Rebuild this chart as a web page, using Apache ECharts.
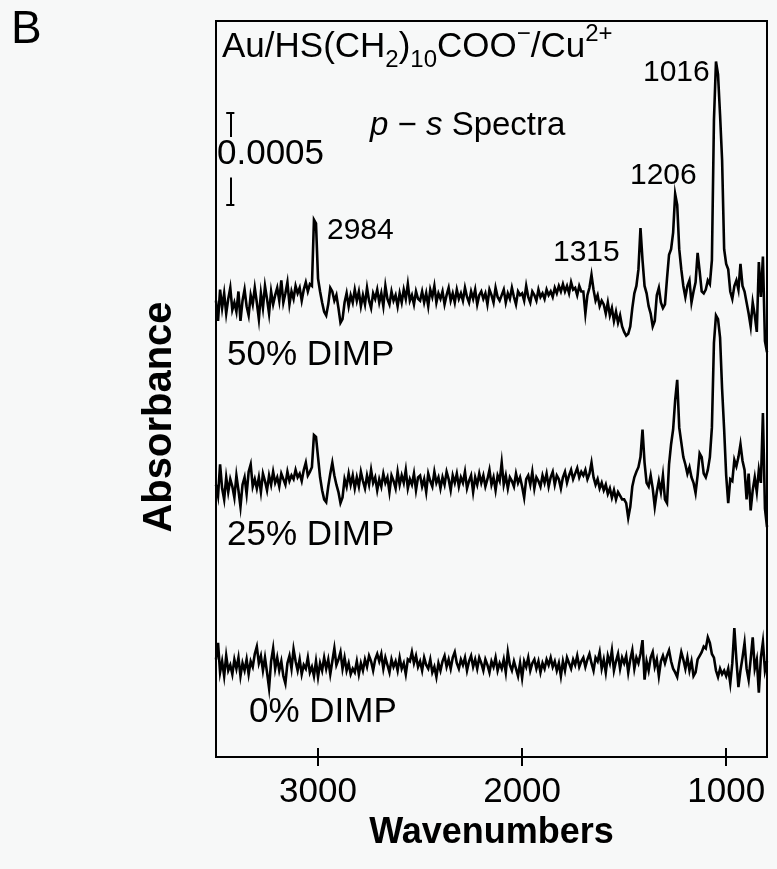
<!DOCTYPE html>
<html><head><meta charset="utf-8">
<script src="https://cdn.jsdelivr.net/npm/echarts@6/dist/echarts.min.js"></script>
<style>html,body{margin:0;padding:0;background:#f7f8f8}#c{width:777px;height:869px}</style>
</head><body><div id="c"></div>
<script>
// Wavenumbers (cm-1), sampling grid of the spectra
const wavenumbers = [
3500,3490,3480,3470,3460,3450,3440,3430,3420,3410,
3400,3390,3380,3370,3360,3350,3340,3330,3320,3310,
3300,3290,3280,3270,3260,3250,3240,3230,3220,3210,
3200,3190,3180,3170,3160,3150,3140,3130,3120,3110,
3100,3090,3080,3070,3060,3050,3040,3030,3020,3010,
3000,2990,2980,2970,2960,2950,2940,2930,2920,2910,
2900,2890,2880,2870,2860,2850,2840,2830,2820,2810,
2800,2790,2780,2770,2760,2750,2740,2730,2720,2710,
2700,2690,2680,2670,2660,2650,2640,2630,2620,2610,
2600,2590,2580,2570,2560,2550,2540,2530,2520,2510,
2500,2490,2480,2470,2460,2450,2440,2430,2420,2410,
2400,2390,2380,2370,2360,2350,2340,2330,2320,2310,
2300,2290,2280,2270,2260,2250,2240,2230,2220,2210,
2200,2190,2180,2170,2160,2150,2140,2130,2120,2110,
2100,2090,2080,2070,2060,2050,2040,2030,2020,2010,
2000,1990,1980,1970,1960,1950,1940,1930,1920,1910,
1900,1890,1880,1870,1860,1850,1840,1830,1820,1810,
1800,1790,1780,1770,1760,1750,1740,1730,1720,1710,
1700,1690,1680,1670,1660,1650,1640,1630,1620,1610,
1600,1590,1580,1570,1560,1550,1540,1530,1520,1510,
1500,1490,1480,1470,1460,1450,1440,1430,1420,1410,
1400,1390,1380,1370,1360,1350,1340,1330,1320,1310,
1300,1290,1280,1270,1260,1250,1240,1230,1220,1210,
1200,1190,1180,1170,1160,1150,1140,1130,1120,1110,
1100,1090,1080,1070,1060,1050,1040,1030,1020,1010,
1000,990,980,970,960,950,940,930,920,910,
900,890,880,870,860,850,840,830,820,810,
800];

// Absorbance (units of 1e-4) relative to each trace's baseline
const dimp50 = [
-0.2,-1.3,0.4,-0.6,0.2,-0.9,-0.1,0.5,-0.7,-0.3,
-0.8,0.3,-1.3,-0.2,0.4,-0.5,-1.0,0.1,-0.4,0.5,
-0.3,-1.2,0.2,-0.6,0.6,-0.1,-0.9,0.3,-0.4,0.1,
0.5,-0.2,0.9,-0.3,0.2,0.8,-0.4,0.3,-0.1,0.6,
0.2,0.5,-0.2,0.4,0.8,0.3,0.7,0.6,4.2,4.0,
1.0,0.3,-0.3,-0.8,-1.0,-0.4,0.5,0.3,-0.2,0.1,
-0.6,-1.4,-1.2,-0.3,0.2,-0.5,0.1,-0.3,0.4,-0.2,
0.3,-0.5,0.1,-0.4,0.5,-0.2,-0.6,0.2,-0.1,0.4,
-0.3,0.2,-0.5,0.6,-0.1,-0.4,0.3,-0.2,0.1,-0.5,
0.2,-0.3,0.4,-0.1,0.7,-0.2,0.1,-0.4,0.3,-0.1,
-0.2,0.3,-0.3,0.2,-0.5,0.4,0.0,0.6,-0.3,0.2,
-0.1,0.3,-0.4,0.1,0.5,-0.2,0.2,-0.3,0.4,-0.1,
0.2,-0.2,0.5,0.0,-0.3,0.3,-0.1,0.4,-0.4,0.1,
0.3,-0.1,0.2,-0.4,0.4,0.1,-0.3,0.5,0.0,-0.2,
0.1,0.4,-0.3,0.2,-0.1,0.5,0.0,-0.4,0.3,0.1,
0.2,-0.2,0.6,0.0,-0.3,0.3,0.1,-0.2,0.4,0.0,
0.2,-0.1,0.4,0.1,0.3,0.0,0.5,0.2,0.6,0.3,
0.7,0.3,0.6,0.2,0.8,0.4,0.5,0.1,0.6,0.3,
0.3,-0.9,0.1,0.5,1.2,0.4,-0.2,0.1,-0.5,-0.2,
-0.4,-0.9,-0.3,-1.0,-0.6,-1.3,-0.8,-1.4,-1.0,-1.6,
-1.9,-2.1,-2.0,-1.6,-0.6,0.2,0.6,1.5,3.75,2.0,
0.6,0.2,-0.5,-0.9,-1.6,-1.3,0.1,0.5,-0.3,-0.6,
-0.4,1.0,2.3,2.6,3.5,5.6,5.0,2.6,1.5,0.6,
0.0,0.6,0.9,-0.3,0.3,0.8,2.4,1.4,0.3,0.2,
0.4,0.9,0.7,2.0,9.6,12.8,12.1,9.9,7.45,2.6,
1.8,1.5,0.3,-0.1,0.6,0.9,0.4,1.8,0.6,0.3,
-0.3,-0.9,-1.6,-0.3,-1.0,-1.9,1.9,0.0,2.2,-2.4,
-3.0];

const dimp25 = [
-0.2,-0.8,0.9,-0.4,-1.0,0.2,-0.6,0.1,-0.3,-0.9,
0.3,-0.5,-1.4,-0.2,0.2,-0.7,0.5,0.9,-0.3,0.1,
-0.4,0.2,-0.6,0.4,0.0,-0.5,0.3,-0.2,0.5,-0.1,
0.2,-0.3,0.4,0.1,-0.2,0.5,0.0,0.3,0.1,0.6,
0.2,0.4,0.0,0.6,1.0,0.3,0.5,0.75,2.5,2.4,
1.3,0.2,-0.5,-1.0,-1.15,-0.3,0.4,1.0,0.3,-0.2,
-0.6,-1.2,-0.9,0.1,-0.3,0.4,-0.2,0.3,-0.4,0.2,
-0.3,0.5,0.0,-0.4,0.3,-0.2,0.6,-0.1,0.2,-0.5,
0.1,-0.3,0.4,-0.1,0.2,-0.6,0.3,0.0,-0.4,0.5,
-0.2,0.3,-0.1,0.6,-0.4,0.1,-0.2,0.4,-0.5,0.2,
0.3,-0.3,0.1,-0.6,0.4,0.0,-0.3,0.5,-0.1,0.2,
-0.4,0.2,-0.2,0.5,0.1,-0.5,0.3,-0.1,0.4,-0.3,
0.2,-0.1,0.5,-0.4,0.0,0.3,-0.6,0.2,-0.2,0.4,
-0.1,0.3,-0.3,0.1,0.6,-0.2,0.2,-0.5,0.3,0.0,
1.0,-0.2,0.3,-0.4,0.2,0.0,-0.3,0.4,-0.1,0.2,
-0.3,-0.9,0.1,0.3,-0.2,0.5,-0.4,0.2,0.0,-0.3,
0.3,-0.1,0.4,-0.3,0.2,0.5,-0.2,0.3,0.1,-0.4,
0.2,0.5,-0.1,0.3,0.6,0.1,0.4,0.7,0.2,0.5,
0.3,0.6,0.1,0.4,1.0,0.2,-0.2,0.1,-0.4,-0.1,
-0.5,-0.2,-0.7,-0.4,-0.9,-0.5,-1.0,-0.6,-0.8,-1.0,
-1.0,-1.2,-2.0,-1.4,-0.3,0.2,0.5,0.75,1.3,2.8,
1.0,-0.1,-0.3,0.3,-0.4,-1.4,-0.6,0.0,-0.6,0.3,
-1.0,-1.2,0.9,2.0,2.8,4.4,5.5,2.9,2.1,1.3,
0.9,0.4,0.75,0.2,-0.1,-0.65,0.3,1.5,1.3,0.4,
0.2,0.6,1.3,2.9,7.5,9.0,8.8,7.8,5.0,2.8,
0.3,-1.2,0.1,0.0,1.15,0.8,1.3,2.0,1.1,0.6,
-1.0,0.4,-1.6,-0.5,0.2,-0.6,0.6,-0.1,3.7,-1.5,
-2.5];

const dimp0 = [
0.3,1.2,-0.4,0.2,-0.6,0.5,-0.3,0.0,-0.5,0.3,
-0.2,0.4,-0.6,0.1,-0.3,0.3,-0.5,0.2,-0.1,0.6,
1.0,0.1,0.5,-0.3,0.4,-0.4,-1.25,0.2,0.9,-0.2,
0.4,-0.3,0.2,-0.6,-1.0,0.1,0.5,-0.2,0.85,0.2,
-0.3,0.3,-0.5,0.0,-0.2,0.4,-0.4,-0.1,-0.6,0.2,
-0.65,0.1,-0.3,0.4,-0.2,0.3,-0.5,0.2,0.9,0.0,
0.3,0.7,-0.2,0.4,-0.3,0.1,-0.5,-0.2,-0.4,0.2,
-0.5,0.1,-0.3,0.3,-0.1,0.5,0.2,-0.3,0.3,0.6,
0.2,0.6,-0.2,0.4,0.0,-0.4,0.3,-0.1,0.2,-0.3,
0.4,-0.2,0.1,-0.5,0.3,0.2,0.7,0.1,0.5,-0.1,
0.2,-0.3,0.4,0.0,-0.2,0.3,-0.4,-0.1,-0.65,0.1,
-0.3,0.2,0.5,-0.1,0.3,-0.2,0.4,0.7,0.1,-0.2,
0.3,0.0,0.4,-0.3,0.2,0.5,-0.1,0.3,-0.2,0.4,
0.1,-0.3,0.3,0.0,-0.4,0.2,-0.1,0.4,-0.3,0.1,
-0.2,0.3,-0.4,0.7,0.0,-0.3,0.2,-0.2,-0.6,0.1,
-0.7,0.2,-0.1,0.4,-0.3,0.1,0.3,-0.2,0.2,-0.4,
0.1,-0.2,0.3,0.0,0.4,-0.1,0.2,-0.3,0.1,-0.6,
0.2,-0.3,0.4,0.1,-0.2,0.3,0.0,0.5,-0.1,0.2,
0.4,-0.1,0.3,0.6,0.1,-0.3,0.4,0.2,0.7,-0.2,
0.3,-0.4,0.5,0.1,0.8,-0.3,0.2,0.6,-0.2,0.4,
0.1,0.5,-0.4,0.3,0.8,-0.2,0.4,0.1,0.6,1.35,
-0.8,0.2,-0.3,0.4,0.7,-0.1,0.3,-0.6,0.2,0.5,
0.1,0.5,0.8,0.2,-0.2,-0.4,-0.65,0.1,0.7,0.3,
-0.2,0.4,-0.3,0.2,-0.6,-0.4,0.3,0.5,0.7,1.0,
0.9,1.5,1.2,0.6,0.4,-0.3,-0.65,-0.2,-0.5,-0.3,
-0.6,-0.2,-1.0,0.1,2.0,0.3,-1.2,-0.3,0.4,1.2,
-0.2,-0.8,0.3,1.5,-0.2,0.3,-1.5,0.4,1.25,-0.3,
0.2];

// vertical offsets of the stacked traces (units of 1e-4 absorbance)
const traceNames = ['50% DIMP', '25% DIMP', '0% DIMP'];
const traceOffsets = [25, 15, 5];
const traceValues = [dimp50, dimp25, dimp0];

// scale bar: 0.0005 absorbance (= 5 units)
const scaleBarWn = 3430;
const scaleBarCapHalf = 20;
const scaleBarBottom = 30;
const scaleBarTop = 35;
const scaleBarGapTop = 33.7;
const scaleBarGapBottom = 31.5;

const xTicks = [1000, 2000, 3000];

const FONT = '"Liberation Sans", Arial, Helvetica, sans-serif';

const series = traceValues.map((vals, k) => ({
  type: 'line',
  name: traceNames[k],
  data: wavenumbers.map((w, i) => [w, traceOffsets[k] + vals[i]]),
  showSymbol: false,
  symbol: 'none',
  lineStyle: { color: '#000', width: 2.6, join: 'miter' },
  animation: false
}));

series.push({
  type: 'lines',
  coordinateSystem: 'cartesian2d',
  lineStyle: { color: '#000', width: 2, opacity: 1 },
  animation: false,
  data: [
    { coords: [[scaleBarWn + scaleBarCapHalf, scaleBarTop], [scaleBarWn - scaleBarCapHalf, scaleBarTop]] },
    { coords: [[scaleBarWn, scaleBarTop], [scaleBarWn, scaleBarGapTop]] },
    { coords: [[scaleBarWn, scaleBarGapBottom], [scaleBarWn, scaleBarBottom]] },
    { coords: [[scaleBarWn + scaleBarCapHalf, scaleBarBottom], [scaleBarWn - scaleBarCapHalf, scaleBarBottom]] }
  ]
});

const txt = (x, y, text, size, extra) => ({
  type: 'text', x: x, y: y,
  style: Object.assign({ text: text, fill: '#000', font: size + 'px ' + FONT, verticalAlign: 'middle', align: 'left' }, extra || {})
});

const chart = echarts.init(document.getElementById('c'), null, { renderer: 'canvas' });
chart.setOption({
  backgroundColor: '#f7f8f8',
  animation: false,
  grid: { left: 216, right: 10, top: 21, bottom: 112, show: true, borderColor: '#000', borderWidth: 2, backgroundColor: 'transparent' },
  xAxis: [{
    type: 'value', min: 800, max: 3500, inverse: true,
    axisLine: { show: true, lineStyle: { color: '#000', width: 2 } },
    axisTick: { show: true, inside: false, length: 9, lineStyle: { color: '#000', width: 2 }, customValues: xTicks },
    axisLabel: { show: true, customValues: xTicks, formatter: v => String(v), color: '#000', fontSize: 35, fontFamily: FONT, margin: 18 },
    splitLine: { show: false },
    name: 'Wavenumbers', nameLocation: 'middle', nameGap: 56,
    nameTextStyle: { color: '#000', fontSize: 36, fontWeight: 'bold', fontFamily: FONT }
  }, {
    type: 'value', min: 800, max: 3500, inverse: true, position: 'bottom', offset: 0,
    axisLine: { show: false },
    axisTick: { show: true, inside: true, length: 9, lineStyle: { color: '#000', width: 2 }, customValues: xTicks },
    axisLabel: { show: false },
    splitLine: { show: false }
  }],
  yAxis: {
    type: 'value', min: 0, max: 40,
    axisLine: { show: true, lineStyle: { color: '#000', width: 2 } },
    axisTick: { show: false }, axisLabel: { show: false }, splitLine: { show: false }
  },
  series: series,
  graphic: [
    txt(11, 30, 'B', 46),
    {
      type: 'text', x: 160, y: 417, rotation: Math.PI / 2,
      style: { text: 'Absorbance', fill: '#000', font: 'bold 40px ' + FONT, align: 'center', verticalAlign: 'middle' }
    },
    {
      type: 'text', x: 222, y: 47.8,
      style: {
        text: '{m|Au/HS(CH}{s|2}{m|)}{s|10}{m|COO}{p|\u2212}{m|/Cu}{p|2+}',
        verticalAlign: 'middle', align: 'left',
        rich: {
          m: { fontSize: 35, fontFamily: FONT, fill: '#000', lineHeight: 50, verticalAlign: 'middle' },
          s: { fontSize: 24, fontFamily: FONT, fill: '#000', lineHeight: 24, verticalAlign: 'bottom' },
          p: { fontSize: 24, fontFamily: FONT, fill: '#000', lineHeight: 34, verticalAlign: 'top' }
        }
      }
    },
    {
      type: 'text', x: 370, y: 126,
      style: {
        text: '{i|p}{m| \u2212 }{i|s}{m| Spectra}',
        verticalAlign: 'middle', align: 'left',
        rich: {
          i: { fontSize: 33, fontFamily: FONT, fontStyle: 'italic', fill: '#000' },
          m: { fontSize: 33, fontFamily: FONT, fill: '#000' }
        }
      }
    },
    txt(217, 154.5, '0.0005', 35),
    txt(327, 231, '2984', 30),
    txt(553, 252.5, '1315', 30),
    txt(630, 176, '1206', 30),
    txt(643, 72.5, '1016', 30),
    txt(227, 355.5, '50% DIMP', 35),
    txt(227, 535.5, '25% DIMP', 35),
    txt(249, 712, '0% DIMP', 35)
  ]
});
</script>
</body></html>
